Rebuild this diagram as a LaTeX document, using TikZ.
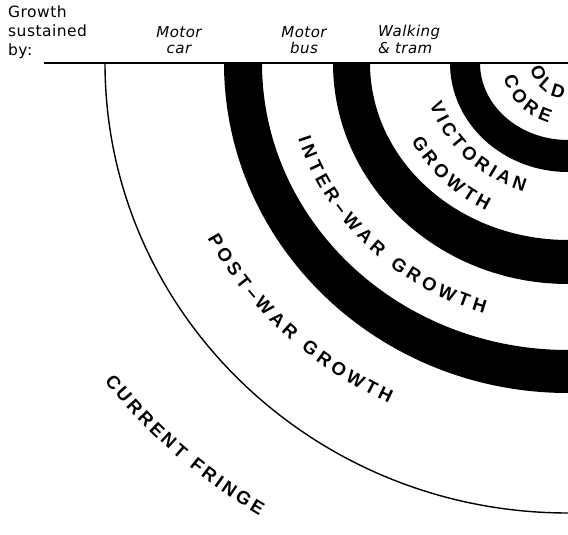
\documentclass[tikz,border=0pt]{standalone}
\usepackage{fontspec}
\usetikzlibrary{decorations.text}

\newfontfamily\labelfont{DejaVu Sans}[ItalicFont={* Oblique}, LetterSpace=3]
\newfontfamily\ringfont{Liberation Sans}
\newcommand{\ringtype}{\ringfont\bfseries\fontsize{18.5}{19}\selectfont}

\tikzset{
    sustained/.style={anchor=north west, inner sep=0pt, align=left, font=\labelfont\fontsize{15.5}{18.7}\selectfont},
    transport/.style={anchor=north, inner sep=0pt, align=center, font=\labelfont\itshape\fontsize{15}{16.7}\selectfont},
    ringlabel/.style={decorate, decoration={text along path, text={|\ringtype|#1}, text align={fit to path}}}
}

\begin{document}
\begin{tikzpicture}[x=1pt, y=-1pt]
    \useasboundingbox (0,0) rectangle (568,535);

    % Centre of the rings sits on the right edge
    \coordinate (O) at (568,63);
    \coordinate (lineStart) at (44,63);

    % Heading texts
    \node[sustained] (growthBy) at (8,6) {Growth\\sustained\\by:};
    \node[transport] (motorCar) at (179,26) {Motor\\car};
    \node[transport] (motorBus) at (304,26) {Motor\\bus};
    \node[transport, anchor=north west, align=left] (walkTram) at (378,25) {Walking\\\& tram};

    % Base line
    \draw[line width=1.2pt] (lineStart) -- (O);

    % Black rings
    \foreach \ox/\oy/\ix/\iy in {344/330/306/287, 235/221/198/177, 118/109/88/77}
        \fill (568-\ox,63) arc[start angle=180, end angle=90, x radius=\ox, y radius=\oy]
            -- (568,63+\iy) arc[start angle=90, end angle=180, x radius=\ix, y radius=\iy] -- cycle;

    % Current fringe
    \draw[line width=1.4pt] (568-463,63) arc[start angle=180, end angle=90, x radius=463, y radius=450];

    % Ring names
    \begin{scope}[shift={(O)}]
        \path[ringlabel={OLD}] (171:38 and 36) arc[start angle=171, end angle=98, x radius=38, y radius=36];
        \path[ringlabel={CORE}] (167:66 and 63) arc[start angle=167, end angle=107, x radius=66, y radius=63];
        \path[ringlabel={VICTORIAN}] (162.3:145 and 135) arc[start angle=162.3, end angle=107.8, x radius=145, y radius=135];
        \path[ringlabel={GROWTH}] (151.8:178 and 166) arc[start angle=151.8, end angle=117.3, x radius=178, y radius=166];
        \path[ringlabel={INTER–WAR GROWTH}] (163.2:282 and 262) arc[start angle=163.2, end angle=107.3, x radius=282, y radius=262];
        \path[ringlabel={POST–WAR GROWTH}] (152.4:407 and 379) arc[start angle=152.4, end angle=116.1, x radius=407, y radius=379];
        \path[ringlabel={CURRENT FRINGE}] (143.6:576 and 536) arc[start angle=143.6, end angle=122.4, x radius=576, y radius=536];
    \end{scope}

\end{tikzpicture}
\end{document}
